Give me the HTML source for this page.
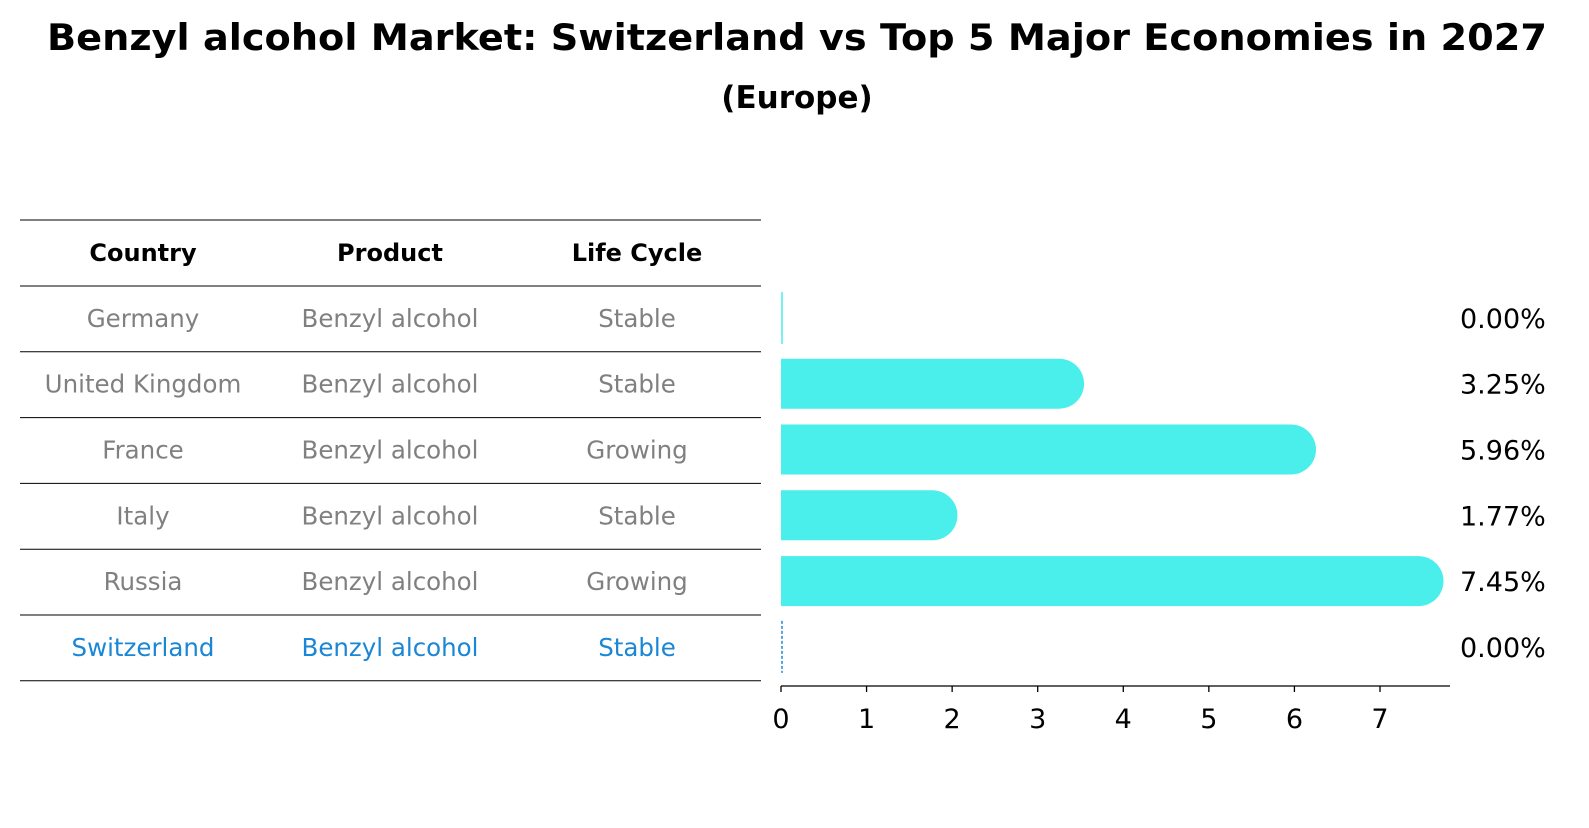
<!DOCTYPE html>
<html><head><meta charset="utf-8">
<style>
html,body{margin:0;padding:0;background:#fff;}
body{width:1589px;height:823px;overflow:hidden;font-family:"Liberation Sans","DejaVu Sans",sans-serif;}
</style></head>
<body>
<svg id="chart" width="1589" height="823" xmlns="http://www.w3.org/2000/svg" font-family="DejaVu Sans, Liberation Sans, sans-serif">
<text x="797" y="50" text-anchor="middle" font-size="36.5" font-weight="bold" textLength="1500" lengthAdjust="spacingAndGlyphs">Benzyl alcohol Market: Switzerland vs Top 5 Major Economies in 2027</text>
<text x="797" y="108" text-anchor="middle" font-size="31" font-weight="bold">(Europe)</text>
<g id="table"></g>
<g id="bars"></g>
<g id="axis"></g>
</svg>
<script>
const countries = ["Germany","United Kingdom","France","Italy","Russia","Switzerland"];
const products = ["Benzyl alcohol","Benzyl alcohol","Benzyl alcohol","Benzyl alcohol","Benzyl alcohol","Benzyl alcohol"];
const lifeCycles = ["Stable","Stable","Growing","Stable","Growing","Stable"];
const values = [0.00,3.25,5.96,1.77,7.45,0.00];
const valueLabels = ["0.00%","3.25%","5.96%","1.77%","7.45%","0.00%"];
const ticks = [0,1,2,3,4,5,6,7];

const NS="http://www.w3.org/2000/svg";
function mk(tag,attrs,parent){const e=document.createElementNS(NS,tag);for(const k in attrs)e.setAttribute(k,attrs[k]);parent.appendChild(e);return e;}
const x0=781, pxPerUnit=85.57;
function xs(v){return x0+v*pxPerUnit;}
const rowTop=286, rowH=65.8;
function rowCenter(i){return rowTop+rowH*(i+0.5);}

const table=document.getElementById('table');
const colX=[143,390,637];
const headers=["Country","Product","Life Cycle"];
let l=mk('line',{x1:20,x2:761,y1:220,y2:220,stroke:'#000','stroke-width':1},table);


headers.forEach((h,j)=>{
  const t=mk('text',{x:colX[j],y:261,'text-anchor':'middle','font-size':24,'font-weight':'bold'},table);
  t.textContent=h;
  
  
});
for(let i=0;i<=countries.length;i++){
  const y=rowTop+rowH*i;
  const ln=mk('line',{x1:20,x2:761,y1:y,y2:y,stroke:'#000','stroke-width':1},table);
  
  
}
countries.forEach((c,i)=>{
  const col = i===countries.length-1 ? '#1a86d6' : '#808080';
  [c,products[i],lifeCycles[i]].forEach((v,j)=>{
    const t=mk('text',{x:colX[j],y:rowCenter(i)+8,'text-anchor':'middle','font-size':24.5,fill:col},table);
    t.textContent=v;
    
    
  });
});

const bars=document.getElementById('bars');
const bh=50, r=25;
values.forEach((v,i)=>{
  const cy=rowCenter(i)-1;
  const last=i===values.length-1;
  if(v===0){
    const ln=mk('line',{x1:x0+1,x2:x0+1,y1:cy-26,y2:cy+26,stroke:last?'#1a86d6':'#4aeeea','stroke-width':1.5,'stroke-dasharray':last?'3,2':'none'},bars);
    
    
  } else {
    const xe=xs(v);
    const p=mk('path',{d:`M${x0},${cy-bh/2} L${xe},${cy-bh/2} A${r},${r} 0 0 1 ${xe},${cy+bh/2} L${x0},${cy+bh/2} Z`,fill:'#4aeeea'},bars);
    
    
  }
  const t=mk('text',{x:1460,y:cy+10,'font-size':27,fill:'#000'},bars);
  t.textContent=valueLabels[i];
  
  
});

const axis=document.getElementById('axis');
const al=mk('line',{x1:x0,x2:1450,y1:686,y2:686,stroke:'#000','stroke-width':1.3},axis);


ticks.forEach(tk=>{
  const x=xs(tk);
  const tl=mk('line',{x1:x,x2:x,y1:686,y2:692,stroke:'#000','stroke-width':1.3},axis);
  
  
  const t=mk('text',{x:x,y:728,'text-anchor':'middle','font-size':27},axis);
  t.textContent=String(tk);
  
  
});
</script>
</body></html>
